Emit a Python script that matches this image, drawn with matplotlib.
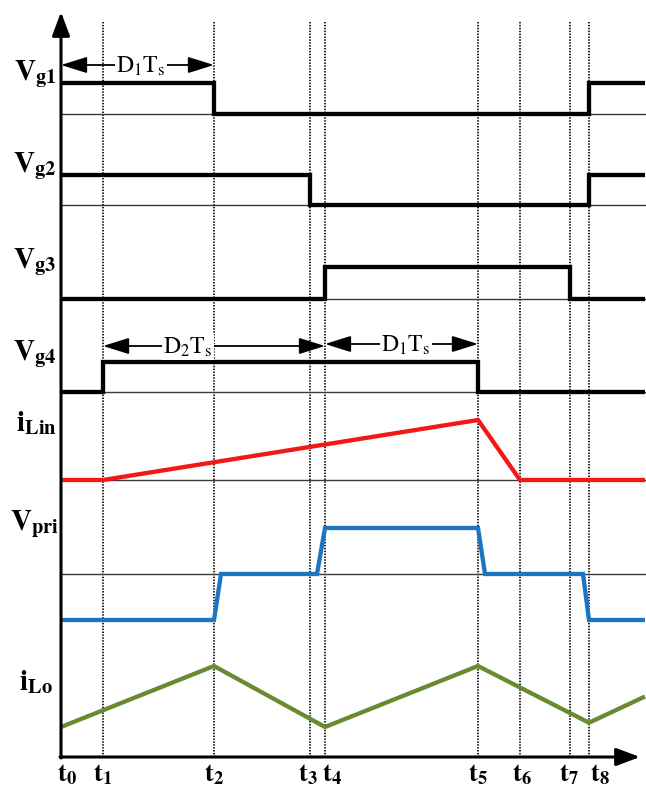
import numpy as np
import matplotlib.pyplot as plt

plt.rcParams['mathtext.fontset'] = 'stix'
plt.rcParams['font.family'] = ['Liberation Serif', 'DejaVu Serif']

# switching instants t0..t8 (time units along the axis) and end of drawn period
t_names = ['0', '1', '2', '3', '4', '5', '6', '7', '8']
t_at = [0, 42, 153, 249, 264, 417, 459, 509, 528]
t_end = 584
T = t_at

# gate signals (1 = on)
vg1_t = [T[0], T[2], T[2], T[8], T[8], t_end]
vg1_v = [1, 1, 0, 0, 1, 1]
vg2_t = [T[0], T[3], T[3], T[8], T[8], t_end]
vg2_v = [1, 1, 0, 0, 1, 1]
vg3_t = [T[0], T[4], T[4], T[7], T[7], t_end]
vg3_v = [0, 0, 1, 1, 0, 0]
vg4_t = [T[0], T[1], T[1], T[5], T[5], t_end]
vg4_v = [0, 0, 1, 1, 0, 0]

# input inductor current (normalised to its peak)
ilin_t = [T[0], T[1], T[5], T[6], t_end]
ilin_v = [0, 0, 1, 0, 0]

# transformer primary voltage (-1, 0, +1)
vpri_t = [T[0], T[2], T[2] + 7, T[3] + 7, T[4], T[5], T[5] + 7, T[7] + 13, T[8], t_end]
vpri_v = [-1, -1, 0, 0, 1, 1, 0, 0, -1, -1]

# output inductor current (normalised between valley and peak)
ilo_t = [T[0], T[2], T[4], T[5], T[8], t_end]
ilo_v = [0, 1, 0, 1, 0.07, 0.5]

# layout in pixels
X0, Y_AXIS = 61, 757
rows = {
    'vg1': (114, 31), 'vg2': (205, 30), 'vg3': (299, 32), 'vg4': (392, 30),
    'ilin': (480, 60), 'vpri': (574, 46), 'ilo': (727, 61),
}

fig = plt.figure(figsize=(6.46, 7.87), dpi=100)
ax = fig.add_axes([0, 0, 1, 1])
ax.set_xlim(0, 646)
ax.set_ylim(787, 0)
ax.axis('off')


def draw(t, v, row, color, lw=3.1):
    base, amp = rows[row]
    ax.plot(X0 + np.array(t), base - amp * np.array(v), color=color, lw=lw,
            solid_joinstyle='miter', solid_capstyle='butt', zorder=4)


# reference baselines
for r in ['vg1', 'vg2', 'vg3', 'vg4', 'ilin', 'vpri']:
    ax.plot([X0, X0 + t_end], [rows[r][0]] * 2, color='#3a3a3a', lw=1.0, zorder=2)

# dotted time markers
for t in T[1:]:
    ax.plot([X0 + t] * 2, [22, Y_AXIS], color='#111111', lw=1.3,
            ls=(0, (0.8, 0.8)), zorder=1)

draw(vg1_t, vg1_v, 'vg1', 'black')
draw(vg2_t, vg2_v, 'vg2', 'black')
draw(vg3_t, vg3_v, 'vg3', 'black')
draw(vg4_t, vg4_v, 'vg4', 'black')
draw(ilin_t, ilin_v, 'ilin', '#f21818')
draw(vpri_t, vpri_v, 'vpri', '#1b75c2')
draw(ilo_t, ilo_v, 'ilo', '#6a8a30')

# axes with arrows
axis_head = '-|>,head_length=0.4,head_width=0.15'
ax.annotate('', xy=(X0, 12), xytext=(X0, Y_AXIS + 1),
            arrowprops=dict(arrowstyle=axis_head, lw=2.2, color='black',
                            mutation_scale=36, shrinkA=0, shrinkB=0), zorder=5)
ax.annotate('', xy=(640, Y_AXIS), xytext=(X0 - 1, Y_AXIS),
            arrowprops=dict(arrowstyle=axis_head, lw=2.2, color='black',
                            mutation_scale=36, shrinkA=0, shrinkB=0), zorder=5)

# signal labels
labels = [
    (r'$\mathbf{V}_{\mathbf{g1}}$', 35, 74),
    (r'$\mathbf{V}_{\mathbf{g2}}$', 35, 166),
    (r'$\mathbf{V}_{\mathbf{g3}}$', 35, 262),
    (r'$\mathbf{V}_{\mathbf{g4}}$', 35, 354),
    (r'$\mathbf{i}_{\mathbf{Lin}}$', 36, 423),
    (r'$\mathbf{V}_{\mathbf{pri}}$', 35, 524),
    (r'$\mathbf{i}_{\mathbf{Lo}}$', 36, 682),
]
for s, x, y in labels:
    ax.text(x, y, s, fontsize=21, ha='center', va='center')

# time labels
t_shift = [6, 0, 0, -2, 7, 0, 2, -1, 11]
for name, t, dx in zip(t_names, T, t_shift):
    ax.text(X0 + t + dx, 775, r'$\mathbf{t}_{\mathbf{%s}}$' % name, fontsize=19,
            ha='center', va='center')


# duty-cycle dimension arrows
def span(x1, x2, y, text, tx):
    ax.annotate('', xy=(X0 + x2, y), xytext=(X0 + x1, y),
                arrowprops=dict(arrowstyle='<|-|>,head_length=0.8,head_width=0.25',
                                lw=1.3, color='black',
                                mutation_scale=20, shrinkA=0, shrinkB=0), zorder=5)
    ax.text(tx, y + 1, text, fontsize=17, ha='center', va='center', zorder=6,
            bbox=dict(facecolor='white', edgecolor='none', pad=1))


span(T[0], T[2], 65, r'$\mathrm{D}_{1}\mathrm{T}_{\mathrm{s}}$', 141)
span(T[1], T[4], 346, r'$\mathrm{D}_{2}\mathrm{T}_{\mathrm{s}}$', 188)
span(T[4], T[5], 344, r'$\mathrm{D}_{1}\mathrm{T}_{\mathrm{s}}$', 406)

fig.savefig('out.png', dpi=100)
